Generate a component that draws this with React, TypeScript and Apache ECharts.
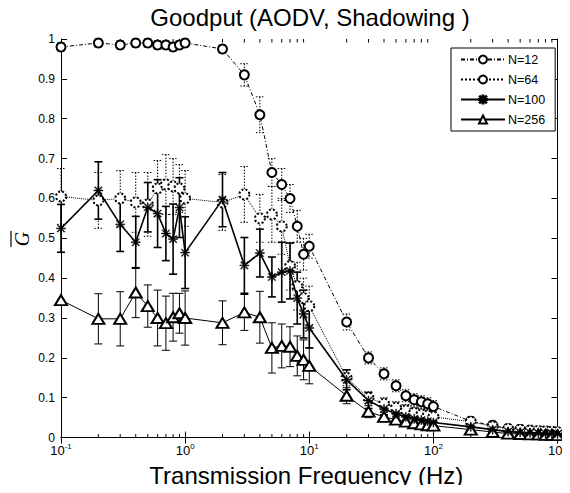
import React, { useEffect, useRef } from "react";
import * as echarts from "echarts";

const freqs = [0.1, 0.2, 0.3, 0.4, 0.5, 0.6, 0.7, 0.8, 0.9, 1, 2, 3, 4, 5, 6, 7, 8, 9, 10, 20, 30, 40, 50, 60, 70, 80, 90, 100, 200, 300, 400, 500, 600, 700, 800, 900, 1000];

const n12 = [0.98, 0.99, 0.985, 0.99, 0.99, 0.985, 0.985, 0.98, 0.985, 0.99, 0.975, 0.91, 0.81, 0.665, 0.635, 0.6, 0.53, 0.46, 0.48, 0.29, 0.2, 0.16, 0.13, 0.105, 0.095, 0.09, 0.085, 0.078, 0.041, 0.031, 0.022, 0.02, 0.018, 0.016, 0.015, 0.013, 0.012];
const n12Err = [0.01, 0.01, 0.01, 0.01, 0.01, 0.01, 0.01, 0.01, 0.01, 0.01, 0.01, 0.028, 0.045, 0.035, 0.04, 0.035, 0.04, 0.04, 0.03, 0.02, 0.015, 0.015, 0.015, 0.015, 0.015, 0.015, 0.015, 0.015, 0.01, 0.01, 0.01, 0.01, 0.01, 0.01, 0.01, 0.01, 0.01];

const n64 = [0.605, 0.595, 0.6, 0.59, 0.585, 0.625, 0.635, 0.63, 0.625, 0.6, 0.59, 0.61, 0.55, 0.56, 0.53, 0.43, 0.38, 0.35, 0.33, 0.15, 0.1, 0.085, 0.075, 0.068, 0.062, 0.058, 0.055, 0.052, 0.04, 0.028, 0.022, 0.02, 0.018, 0.017, 0.016, 0.015, 0.014];
const n64Err = [0.07, 0.07, 0.07, 0.075, 0.08, 0.07, 0.075, 0.07, 0.06, 0.07, 0.07, 0.07, 0.06, 0.07, 0.07, 0.06, 0.06, 0.05, 0.05, 0.02, 0.015, 0.015, 0.015, 0.015, 0.015, 0.015, 0.015, 0.015, 0.01, 0.01, 0.01, 0.01, 0.01, 0.01, 0.01, 0.01, 0.01];

const n100 = [0.525, 0.62, 0.535, 0.49, 0.578, 0.562, 0.512, 0.498, 0.577, 0.464, 0.597, 0.432, 0.463, 0.403, 0.415, 0.418, 0.35, 0.31, 0.275, 0.145, 0.093, 0.072, 0.06, 0.052, 0.047, 0.044, 0.041, 0.038, 0.027, 0.02, 0.015, 0.013, 0.012, 0.011, 0.01, 0.01, 0.009];
const n100Err = [0.06, 0.072, 0.068, 0.065, 0.062, 0.085, 0.068, 0.088, 0.075, 0.09, 0.068, 0.07, 0.06, 0.05, 0.075, 0.07, 0.065, 0.06, 0.05, 0.025, 0.02, 0.015, 0.015, 0.015, 0.015, 0.015, 0.015, 0.015, 0.008, 0.008, 0.008, 0.008, 0.008, 0.008, 0.008, 0.008, 0.008];

const n256 = [0.345, 0.298, 0.298, 0.364, 0.33, 0.3, 0.287, 0.302, 0.312, 0.3, 0.288, 0.314, 0.302, 0.225, 0.23, 0.228, 0.205, 0.195, 0.18, 0.105, 0.065, 0.052, 0.045, 0.04, 0.036, 0.033, 0.031, 0.03, 0.02, 0.014, 0.01, 0.009, 0.008, 0.008, 0.007, 0.007, 0.006];
const n256Err = [0, 0.063, 0.068, 0.063, 0.053, 0.07, 0.068, 0.06, 0.05, 0.068, 0.055, 0.045, 0.065, 0.063, 0.055, 0.05, 0.05, 0.05, 0.045, 0.02, 0.015, 0.012, 0.012, 0.012, 0.012, 0.012, 0.012, 0.012, 0.006, 0.006, 0.006, 0.006, 0.006, 0.006, 0.006, 0.006, 0.006];

const minorTickFreqs = [0.2, 0.3, 0.4, 0.5, 0.6, 0.7, 0.8, 0.9, 2, 3, 4, 5, 6, 7, 8, 9, 20, 30, 40, 50, 60, 70, 80, 90, 200, 300, 400, 500, 600, 700, 800, 900];

const seriesNames = ["N=12", "N=64", "N=100", "N=256"];

const ASTERISK =
  "path://M4.5 0 h1 v10 h-1 Z M0 4.5 h10 v1 h-10 Z M0.7 1.4 L1.4 0.7 L9.3 8.6 L8.6 9.3 Z M8.6 0.7 L9.3 1.4 L1.4 9.3 L0.7 8.6 Z";

const FONT = "Liberation Sans, Arial, sans-serif";

function errData(vals: number[], errs: number[]) {
  return freqs.map((f, i) => [f, vals[i] - errs[i], vals[i] + errs[i]]);
}

function errSeries(name: string, vals: number[], errs: number[], dotted: boolean, width: number) {
  return {
    type: "custom",
    name: name + " err",
    xAxisIndex: 0,
    yAxisIndex: 0,
    silent: true,
    z: 1,
    encode: { x: 0, y: [1, 2] },
    data: errData(vals, errs),
    renderItem: (params: any, api: any) => {
      const x = api.value(0);
      const lo = api.value(1);
      const hi = api.value(2);
      if (hi - lo <= 0) return { type: "group", children: [] };
      const pTop = api.coord([x, hi]);
      const pBot = api.coord([x, lo]);
      const cap = 4;
      const style = {
        stroke: "#000",
        lineWidth: width,
        lineDash: dotted ? [1.5, 1.5] : null,
      };
      return {
        type: "group",
        children: [
          { type: "line", shape: { x1: pTop[0], y1: pTop[1], x2: pBot[0], y2: pBot[1] }, style },
          { type: "line", shape: { x1: pTop[0] - cap, y1: pTop[1], x2: pTop[0] + cap, y2: pTop[1] }, style },
          { type: "line", shape: { x1: pBot[0] - cap, y1: pBot[1], x2: pBot[0] + cap, y2: pBot[1] }, style },
        ],
      };
    },
  };
}

function pairs(vals: number[]) {
  return freqs.map((f, i) => [f, vals[i]]);
}

export default function App() {
  const ref = useRef<HTMLDivElement>(null);
  useEffect(() => {
    if (!ref.current) return;
    const chart = echarts.init(ref.current, null, { renderer: "svg" });
    const logLabel = (v: number) => {
      const e = Math.round(Math.log10(v));
      return "{b|10}{s|" + e + "}";
    };
    const option: any = {
      animation: false,
      backgroundColor: "#ffffff",
      textStyle: { fontFamily: FONT },
      title: {
        text: "Goodput (AODV, Shadowing )",
        left: 310,
        top: 4,
        textAlign: "center",
        padding: 0,
        textStyle: { fontSize: 24, fontWeight: "normal", fontFamily: FONT, color: "#000", lineHeight: 26 },
      },
      grid: { left: 61, right: 3, top: 39, bottom: 54 },
      legend: {
        data: seriesNames,
        orient: "vertical",
        left: 451,
        top: 48,
        itemWidth: 44,
        itemHeight: 10,
        itemGap: 7,
        padding: [5, 10, 5, 9],
        backgroundColor: "#fff",
        borderColor: "#000",
        borderWidth: 1,
        borderRadius: 0,
        textStyle: { fontFamily: FONT, fontSize: 12.5, color: "#000", padding: [0, 0, 0, -2] },
      },
      xAxis: [
        {
          type: "log",
          logBase: 10,
          min: 0.1,
          max: 1000,
          name: "Transmission Frequency (Hz)",
          nameLocation: "middle",
          nameGap: 17,
          nameTextStyle: { fontSize: 24, fontFamily: FONT, color: "#000", padding: [0, 6, 0, 0], lineHeight: 26 },
          axisLine: { show: true, lineStyle: { color: "#000", width: 1 } },
          axisTick: { show: true, inside: true, length: 6, lineStyle: { color: "#000" } },
          splitLine: { show: false },
          axisLabel: {
            color: "#000",
            margin: 5,
            formatter: logLabel,
            rich: {
              b: { fontSize: 13, fontFamily: FONT, color: "#000" },
              s: { fontSize: 8, fontFamily: FONT, color: "#000", padding: [0, 0, 8, 0] },
            },
          },
        },
        {
          type: "log",
          logBase: 10,
          min: 0.1,
          max: 1000,
          position: "top",
          axisLine: { show: true, lineStyle: { color: "#000", width: 1 } },
          axisTick: { show: true, inside: true, length: 6, lineStyle: { color: "#000" } },
          axisLabel: { show: false },
          splitLine: { show: false },
        },
      ],
      yAxis: [
        {
          type: "value",
          min: 0,
          max: 1,
          interval: 0.1,
          axisLine: { show: true, lineStyle: { color: "#000", width: 1 } },
          axisTick: { show: true, inside: true, length: 6, lineStyle: { color: "#000" } },
          splitLine: { show: false },
          axisLabel: {
            color: "#000",
            fontSize: 12,
            fontFamily: FONT,
            margin: 6,
            formatter: (v: number) => (v === 0 ? "0" : v === 1 ? "1" : v.toFixed(1)),
          },
        },
        {
          type: "value",
          min: 0,
          max: 1,
          interval: 0.1,
          position: "right",
          axisLine: { show: true, lineStyle: { color: "#000", width: 1 } },
          axisTick: { show: true, inside: true, length: 6, lineStyle: { color: "#000" } },
          axisLabel: { show: false },
          splitLine: { show: false },
        },
      ],
      graphic: [
        {
          type: "text",
          x: 22,
          y: 239,
          rotation: Math.PI / 2,
          style: {
            text: "G",
            fontSize: 20,
            fontStyle: "italic",
            fontFamily: "Liberation Serif, Times New Roman, serif",
            fill: "#000",
            align: "center",
            verticalAlign: "middle",
          },
        },
        {
          type: "line",
          shape: { x1: 11, y1: 231, x2: 11, y2: 247 },
          style: { stroke: "#000", lineWidth: 1.2 },
        },
      ],
      series: [
        {
          type: "custom",
          name: "minor ticks",
          silent: true,
          xAxisIndex: 0,
          yAxisIndex: 0,
          encode: { x: 0 },
          data: minorTickFreqs.map((f) => [f]),
          z: 0,
          renderItem: (params: any, api: any) => {
            const f = api.value(0);
            const b = api.coord([f, 0]);
            const t = api.coord([f, 1]);
            const st = { stroke: "#000", lineWidth: 1 };
            return {
              type: "group",
              children: [
                { type: "line", shape: { x1: b[0], y1: b[1], x2: b[0], y2: b[1] - 3.5 }, style: st },
                { type: "line", shape: { x1: t[0], y1: t[1], x2: t[0], y2: t[1] + 3.5 }, style: st },
              ],
            };
          },
        },
        errSeries("N=12", n12, n12Err, true, 1),
        errSeries("N=64", n64, n64Err, true, 1),
        errSeries("N=100", n100, n100Err, false, 1.6),
        errSeries("N=256", n256, n256Err, false, 1),
        {
          type: "line",
          name: "N=12",
          data: pairs(n12),
          z: 3,
          symbol: "emptyCircle",
          symbolSize: 9,
          lineStyle: { color: "#000", width: 1, type: [4, 2, 1, 2] },
          itemStyle: { color: "#000", borderColor: "#000", borderWidth: 1 },
        },
        {
          type: "line",
          name: "N=64",
          data: pairs(n64),
          z: 3,
          symbol: "emptyCircle",
          symbolSize: 10,
          lineStyle: { color: "#000", width: 1, type: "dotted" },
          itemStyle: { color: "#000", borderColor: "#000", borderWidth: 1, borderType: "dotted" },
        },
        {
          type: "line",
          name: "N=100",
          data: pairs(n100),
          z: 4,
          symbol: ASTERISK,
          symbolSize: 9,
          lineStyle: { color: "#000", width: 1.6 },
          itemStyle: { color: "#000", borderColor: "#000", borderWidth: 0.5 },
        },
        {
          type: "line",
          name: "N=256",
          data: pairs(n256),
          z: 3,
          symbol: "emptyTriangle",
          symbolSize: [12, 10],
          lineStyle: { color: "#000", width: 1 },
          itemStyle: { color: "#000", borderColor: "#000", borderWidth: 1 },
        },
      ],
    };
    chart.setOption(option);
    return () => chart.dispose();
  }, []);
  return <div ref={ref} style={{ width: 570, height: 493, margin: -8 }} />;
}
